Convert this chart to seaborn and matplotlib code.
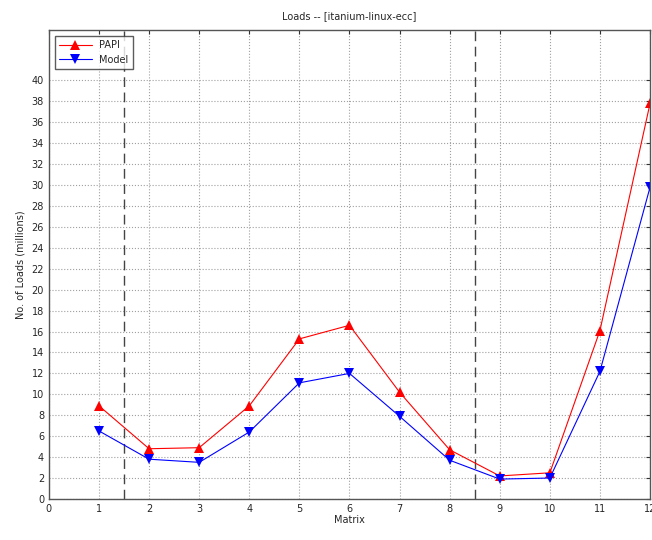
import numpy as np
import pandas as pd
import matplotlib
matplotlib.use("Agg")
import matplotlib.pyplot as plt
import seaborn as sns

# Load counts (millions) per test matrix
matrices = [1, 2, 3, 4, 5, 6, 7, 8, 9, 10, 11, 12]
papi_loads = [8.9, 4.8, 4.9, 8.9, 15.3, 16.6, 10.2, 4.7, 2.2, 2.5, 16.1, 37.8]
model_loads = [6.5, 3.8, 3.5, 6.4, 11.1, 12.0, 7.9, 3.7, 1.9, 2.0, 12.2, 29.8]
series_names = ["PAPI", "Model"]
group_breaks = [1.5, 8.5]

sns.set_style("white")
plt.rcParams["font.family"] = ["DejaVu Sans"]

df = pd.DataFrame({
    "Matrix": matrices * 2,
    "Loads": papi_loads + model_loads,
    "Series": [series_names[0]] * len(matrices) + [series_names[1]] * len(matrices),
})

fig = plt.figure(figsize=(6.52, 5.4), dpi=100)
ax = fig.add_axes([0.075, 0.076, 0.922, 0.868])

sns.lineplot(
    data=df, x="Matrix", y="Loads", hue="Series", style="Series",
    palette={"PAPI": "#ff0000", "Model": "#0000ff"},
    markers={"PAPI": "^", "Model": "v"}, dashes=False,
    markersize=7, linewidth=0.8, markeredgewidth=0, ax=ax,
)

for xb in group_breaks:
    ax.axvline(xb, color="#444444", linestyle=(0, (7, 4)), linewidth=1.0, zorder=1)

ax.set_xlim(0, 12)
ax.set_ylim(0, 44.8)
ax.set_xticks(range(0, 13))
ax.set_yticks(range(0, 41, 2))
ax.grid(True, linestyle=":", color="#a0a0a0", linewidth=0.8)
ax.tick_params(axis="both", labelsize=7, direction="in", length=3, color="#333333")
ax.tick_params(axis="x", top=True)
ax.tick_params(axis="y", right=True)
for s in ax.spines.values():
    s.set_color("#555555")
    s.set_linewidth(1.0)

ax.set_title("Loads -- [itanium-linux-ecc]", fontsize=7, pad=8)
ax.set_xlabel("Matrix", fontsize=7, labelpad=1)
ax.set_ylabel("No. of Loads (millions)", fontsize=7, labelpad=4)

leg = ax.legend(loc="upper left", fontsize=7, frameon=True, fancybox=False,
                edgecolor="#333333", borderaxespad=0.6, handlelength=3.4)
leg.get_frame().set_linewidth(1.0)

fig.savefig("out.png", dpi=100)
